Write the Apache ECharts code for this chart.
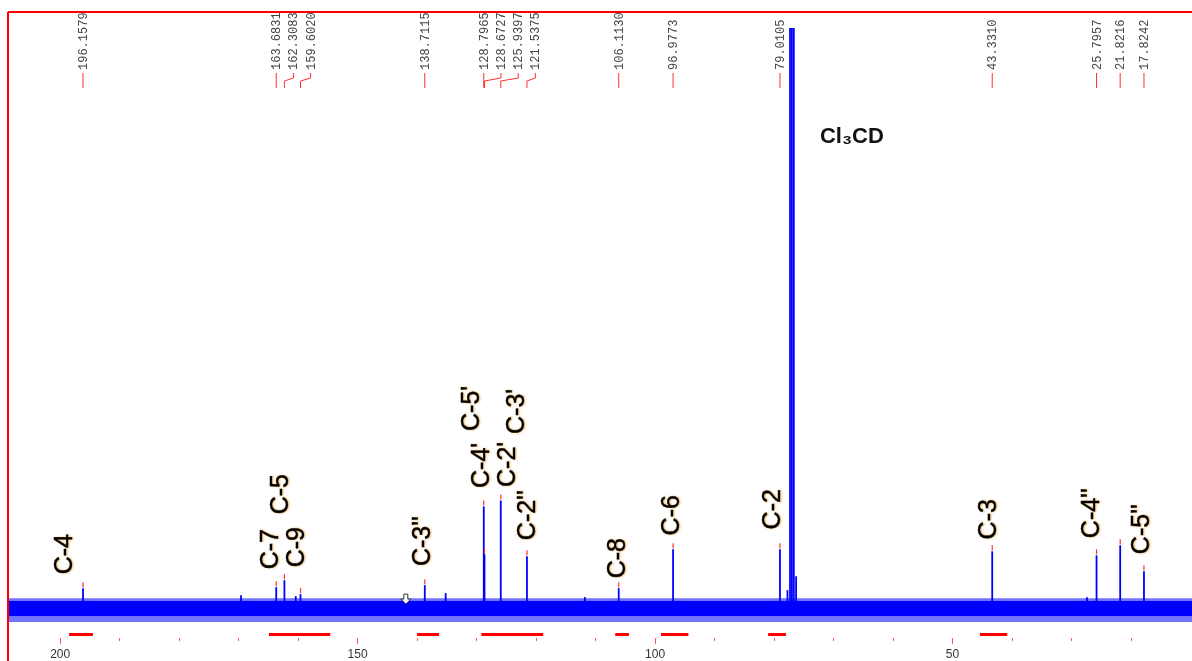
<!DOCTYPE html>
<html><head><meta charset="utf-8">
<script src="https://cdn.jsdelivr.net/npm/echarts@6/dist/echarts.min.js"></script>
<style>html,body{margin:0;padding:0;background:#fff;overflow:hidden}#c{width:1192px;height:661px}</style>
</head><body><div id="c"></div>
<script>
// ---- DATA ----
// Picked 13C peaks (ppm) and heights (relative intensity, baseline = 0)
const peakShifts  = [196.1579, 163.6831, 162.3083, 159.6020, 138.7115, 128.7965, 128.6727, 125.9397, 121.5375, 106.1130, 96.9773, 79.0105, 43.3310, 25.7957, 21.8216, 17.8242];
const peakHeights = [22, 23, 30, 16, 25, 104, 56, 110, 54, 22, 61, 61, 59, 55, 65, 39];
// Solvent triplet (CDCl3), its base and minor unpicked signals
const otherShifts  = [77.32, 77.00, 76.68, 77.75, 76.30, 169.6, 160.4, 135.2, 111.8, 27.4];
const otherHeights = [584, 584, 584, 20, 34, 15, 14, 17, 13, 13];
// Assignment labels and the peak each one belongs to
const assignLabels = ['C-4', 'C-7', 'C-5', 'C-9', "C-3''", "C-4'", "C-5'", "C-2'", "C-3'", "C-2''", 'C-8', 'C-6', 'C-2', 'C-3', "C-4''", "C-5''"];
const assignPeaks  = [196.1579, 163.6831, 162.3083, 159.6020, 138.7115, 128.7965, 128.7965, 125.9397, 125.9397, 121.5375, 106.1130, 96.9773, 79.0105, 43.3310, 25.7957, 17.8242];
const solventLabel = 'Cl₃CD';
const solventShift = 77.00;
// Noise envelope of the baseline (ppm, upper / lower extent)
const noisePpm      = [208.8, 200, 190, 180, 170, 160, 150, 140, 130, 120, 110, 100, 90, 80, 70, 60, 50, 40, 30, 20, 9.7];
const noiseOuterUp  = [12, 12, 12, 12, 12, 12, 12, 12, 12, 12, 12, 12, 12, 12, 12, 12, 12, 12, 12, 12, 12];
const noiseOuterLow = [-12, -12, -12, -12, -12, -12, -12, -12, -12, -12, -12, -12, -12, -12, -12, -12, -12, -12, -12, -12, -12];
const noiseCoreUp   = [9, 9, 9, 9, 9, 9, 9, 9, 9, 9, 9, 9, 9, 9, 9, 9, 9, 9, 9, 9, 9];
const noiseCoreLow  = [-6, -6, -6, -6, -6, -6, -6, -6, -6, -6, -6, -6, -6, -6, -6, -6, -6, -6, -6, -6, -6];
// Integration regions (ppm)
const regionStart = [198.5, 164.9, 140.0, 129.2, 106.7, 99.0, 81.0, 45.4];
const regionEnd   = [194.5, 154.6, 136.3, 118.8, 104.4, 94.4, 78.0, 40.8];
// Axis ticks
const majorTicks = [50, 100, 150, 200];
const minorTicks = [20, 30, 40, 60, 70, 80, 90, 110, 120, 130, 140, 160, 170, 180, 190];

// ---- LAYOUT (annotation offsets in px relative to peak top) ----
const assignOffsets = [[-18,-34],[-5,-38],[-3,-86],[-3,-47],[-2,-44],[-2,-41],[-12,-98],[7,-36],[16,-89],[1,-41],[-1,-30],[-1,-34],[-7,-40],[-3,-32],[-4,-42],[-2,-42]];

const X_MIN = 9.75, X_MAX = 208.77;
const chart = echarts.init(document.getElementById('c'), null, {renderer: 'canvas'});

function spikeSeries(xs, hs, w) {
  return {
    type: 'custom', xAxisIndex: 0, yAxisIndex: 0, silent: true,
    data: xs.map((x, i) => [x, hs[i]]),
    renderItem(params, api) {
      const p0 = api.coord([api.value(0), 0]);
      const p1 = api.coord([api.value(0), api.value(1)]);
      return {type: 'rect', shape: {x: p0[0] - w / 2, y: p1[1], width: w, height: p0[1] - p1[1]},
              style: {fill: '#0000ff'}};
    }
  };
}
function bandSeries(up, low, color) {
  return {
    type: 'custom', xAxisIndex: 0, yAxisIndex: 0, silent: true, data: [[noisePpm[0], 0]],
    renderItem(params, api) {
      const pts = [];
      for (let i = 0; i < noisePpm.length; i++) pts.push(api.coord([noisePpm[i], up[i]]));
      for (let i = noisePpm.length - 1; i >= 0; i--) pts.push(api.coord([noisePpm[i], low[i]]));
      return {type: 'polygon', shape: {points: pts}, style: {fill: color}};
    }
  };
}
function tickAxis(values, len) {
  return {
    type: 'value', inverse: true, min: X_MIN, max: X_MAX, position: 'bottom',
    axisLine: {show: false},
    axisTick: {show: true, customValues: values, length: len, lineStyle: {color: '#ff5555'}},
    axisLabel: {show: false}, splitLine: {show: false}
  };
}

const option = {
  animation: false,
  backgroundColor: '#fff',
  grid: {left: 8, right: 0, top: 12, bottom: 21, containLabel: false},
  xAxis: [{
    type: 'value', inverse: true, min: X_MIN, max: X_MAX,
    axisLine: {show: true, lineStyle: {color: '#ff6060', width: 1}},
    axisTick: {show: false},
    axisLabel: {show: true, customValues: majorTicks, color: '#333', fontSize: 12, fontFamily: 'Liberation Sans', margin: 11},
    splitLine: {show: false}
  }, tickAxis(minorTicks, 3), tickAxis(majorTicks, 6)],
  yAxis: {type: 'value', min: -28, max: 600, show: false, splitLine: {show: false}},
  series: [
    bandSeries(noiseOuterUp, noiseOuterLow, 'rgba(20,20,255,0.6)'),
    bandSeries(noiseCoreUp, noiseCoreLow, '#0000ff'),
    spikeSeries(otherShifts, otherHeights, 1.8),
    spikeSeries(peakShifts, peakHeights, 1.8),
    {
      type: 'custom', silent: true,
      data: peakShifts.map((x, i) => [x, peakHeights[i]]),
      renderItem(params, api) {
        const p = api.coord([api.value(0), api.value(1)]);
        return {type: 'rect', shape: {x: p[0] - 0.6, y: p[1] - 6, width: 1.2, height: 5}, style: {fill: '#ff3030'}};
      }
    },
    {
      type: 'custom', silent: true,
      data: regionStart.map((s, i) => [s, regionEnd[i]]),
      renderItem(params, api) {
        const a = api.coord([api.value(0), -24.5]);
        const b = api.coord([api.value(1), -24.5]);
        return {type: 'rect', shape: {x: a[0], y: a[1] - 1.5, width: b[0] - a[0], height: 3}, style: {fill: '#ff0000'}};
      }
    }
  ]
};
chart.setOption(option);

// ---- annotations computed from the chart's scales ----
const toPx = (x, y) => chart.convertToPixel({gridIndex: 0}, [x, y]);
const heightOf = (ppm) => peakHeights[peakShifts.indexOf(ppm)];
const graphics = [];

// frame (top + left red lines)
graphics.push({type: 'line', shape: {x1: 8, y1: 12, x2: 1192, y2: 12}, style: {stroke: '#ff0000', lineWidth: 2}, z: 10});
graphics.push({type: 'line', shape: {x1: 8, y1: 12, x2: 8, y2: 661}, style: {stroke: '#ff0000', lineWidth: 2}, z: 10});

// top peak-shift labels with de-overlap (forward push)
const peakPx = peakShifts.map(s => toPx(s, 0)[0]);
const GAP = 17.2;
const labelX = [];
for (let i = 0; i < peakPx.length; i++) {
  labelX.push(i === 0 ? peakPx[i] : Math.max(peakPx[i], labelX[i - 1] + GAP));
}
peakShifts.forEach((s, i) => {
  const lx = labelX[i], px = peakPx[i];
  graphics.push({type: 'text', x: Math.round(lx) + 0.5, y: 70, rotation: Math.PI / 2,
    style: {text: s.toFixed(4), fill: '#444', font: '12px "Liberation Mono", "DejaVu Sans Mono", monospace',
            textAlign: 'left', textVerticalAlign: 'middle'}});
  graphics.push({type: 'polyline', shape: {points: [[lx, 73], [lx, 78], [px, 81], [px, 88]]},
    style: {stroke: '#ff3030', lineWidth: 1, fill: null}});
});

// assignment labels
assignLabels.forEach((t, i) => {
  const ppm = assignPeaks[i];
  const top = toPx(ppm, heightOf(ppm));
  const [dx, dy] = assignOffsets[i];
  graphics.push({type: 'text', x: top[0] + dx, y: top[1] + dy, rotation: Math.PI / 2, z: 5,
    style: {text: t, fill: '#000', font: '25px "Liberation Sans", Arial, sans-serif',
            textAlign: 'center', textVerticalAlign: 'middle',
            textShadowColor: 'rgba(230,150,40,0.6)', textShadowBlur: 2, textShadowOffsetX: 1, textShadowOffsetY: 0,
            stroke: '#000', lineWidth: 0.5}});
});

// solvent label
const sp = toPx(solventShift, otherHeights[1]);
graphics.push({type: 'text', x: sp[0] + 28, y: sp[1] + 109,
  style: {text: solventLabel, fill: '#111', font: 'bold 22px "Liberation Sans", "DejaVu Sans", Arial, sans-serif',
          textAlign: 'left', textVerticalAlign: 'middle'}});

// small cursor arrow (outlined, pointing down) in the baseline
const ap = toPx(141.9, 10);
const ax = ap[0], ay = ap[1];
graphics.push({type: 'polygon', z: 6,
  shape: {points: [[ax - 2, ay - 6], [ax + 2, ay - 6], [ax + 2, ay - 1], [ax + 5, ay - 1], [ax, ay + 4], [ax - 5, ay - 1], [ax - 2, ay - 1]]},
  style: {fill: '#fff', stroke: '#333', lineWidth: 1}});

chart.setOption({graphic: graphics});
</script>
</body></html>
